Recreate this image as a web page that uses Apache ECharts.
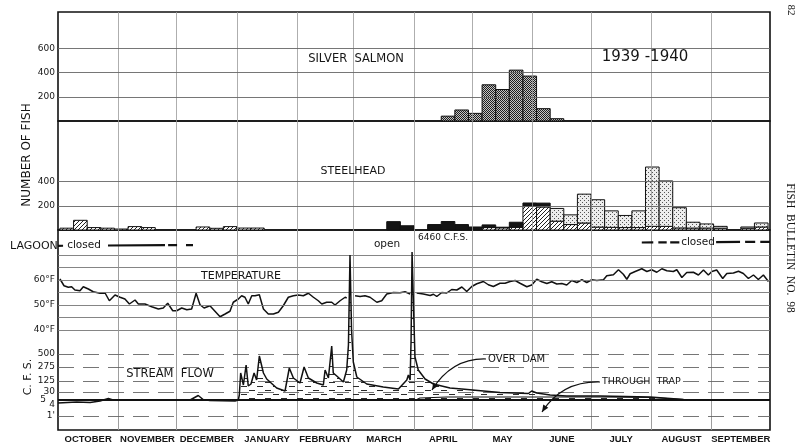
<!DOCTYPE html>
<html><head><meta charset="utf-8">
<script src="https://cdn.jsdelivr.net/npm/echarts@6/dist/echarts.min.js"></script>
<style>html,body{margin:0;padding:0;background:#fff}#c{width:803px;height:445px}</style>
</head><body><div id="c"></div>
<script>
// ---------------- DATA ----------------
const monthNames = ['OCTOBER','NOVEMBER','DECEMBER','JANUARY','FEBRUARY','MARCH','APRIL','MAY','JUNE','JULY','AUGUST','SEPTEMBER'];
const monthStartDay = [0,31,61,92,123,152,183,213,244,274,305,336,366]; // days from 1 Oct 1939

const salmonTicks = [200,400,600];
const steelheadTicks = [200,400];
const temperatureTicks = [40,50,60];
const temperatureGrid = [40,45,50,55,60,65,70];
// stream-flow scale: plotted gauge level -> printed C.F.S. label
const streamTickLevels = [46,33,19,8,0,-5,-16];
const streamTickLabels = ['500','275','125','30','5','4',"1'"];
const streamGridLevels = [46,33,19,8,-16];

// Silver salmon, weekly counts
const salmonWeekStart = [197,204,211,218,225,232,239,246,253];
const salmonCount     = [40,91,63,299,260,420,371,102,19];

// Steelhead, weekly counts (52 weeks)
const steelheadWeekStart = [1,8,15,22,29,36,43,50,57,64,71,78,85,92,99,106,113,120,127,134,141,148,155,162,169,176,183,190,197,204,211,218,225,232,239,246,253,260,267,274,281,288,295,302,309,316,323,330,337,344,351,358];
const steelheadHatched  = [15,80,20,15,8,28,20,0,0,0,25,14,28,16,16,0,0,0,0,0,0,0,0,0,0,0,0,0,0,0,0,20,18,22,198,190,73,45,58,24,22,20,20,30,30,17,16,16,15,0,15,25];
const steelheadBlack    = [0,0,0,0,0,0,0,0,0,0,0,0,0,0,0,0,0,0,0,0,0,0,0,0,69,35,0,45,70,45,25,22,5,42,25,32,0,0,0,0,0,0,0,0,0,0,0,0,0,0,0,0];
const steelheadStippled = [0,0,0,0,0,0,0,0,0,0,0,0,0,0,0,0,0,0,0,0,0,0,0,0,0,0,0,0,0,0,0,0,0,0,0,0,105,80,238,226,136,100,138,490,375,167,48,34,15,0,10,33];

// Lagoon closed periods [startDay, endDay]
const lagoonClosedSegments = [[0,2.6],[25.7,55],[56.6,61.2],[65.8,69.4],[300.1,306],[308.6,312.9],[314.7,319.4],[338.3,350.6],[353.2,358.4],[361,366]];

// Temperature (deg F) [day, value]; null = break
const temperature = [
[1.0,60.4],[3.1,57.7],[5.3,57.1],[7.0,57.3],[8.7,56.0],[11.3,55.7],[13.0,57.3],[15.6,56.4],[18.1,55.3],[21.6,54.7],[24.2,54.8],[26.4,51.7],[29.3,54.0],[31.9,53.1],[34.4,52.4],[36.7,50.4],[39.6,52.0],[41.3,50.4],[44.7,50.4],[48.2,49.3],[51.6,48.4],[54.1,48.8],[56.4,50.7],[59.0,47.7],[61.0,47.7],[63.6,48.8],[66.2,48.1],[68.7,48.4],[71.0,54.7],[73.0,50.1],[75.1,48.8],[78.1,49.7],[80.7,47.5],[83.3,45.3],[85.9,46.4],[88.4,47.5],[90.1,51.1],[92.7,52.4],[94.4,53.7],[96.1,53.1],[97.8,50.4],[99.6,53.7],[101.3,53.7],[103.5,54.1],[105.6,48.4],[108.1,46.4],[110.7,46.4],[113.3,47.1],[115.8,49.7],[118.4,53.1],[121.0,53.7],[123.5,54.0],[126.1,53.7],[128.7,54.7],[131.3,53.1],[133.8,51.7],[135.6,50.4],[138.1,51.1],[140.7,51.1],[142.4,50.0],[145.0,51.7],[147.6,53.1],[148.4,52.8],
null,
[152.7,53.7],[155.3,53.4],[157.8,53.7],[160.4,53.1],[163.9,51.1],[166.4,51.7],[169.0,54.4],[172.4,55.0],[175.8,54.9],[178.4,55.3],[181.0,54.4],
null,
[184.4,54.8],[187.8,54.4],[191.3,53.8],[193.0,54.3],[194.7,53.4],[197.3,55.0],[199.8,54.8],[202.4,56.2],[205.0,56.0],[207.6,57.2],[210.1,55.4],[212.7,57.4],[215.3,58.5],[218.7,59.4],[221.2,58.1],[223.8,57.4],[227.2,58.7],[229.8,58.7],[232.4,59.4],[235.0,59.8],[237.5,58.7],[241.0,57.3],[243.5,58.0],[246.1,60.3],[248.7,59.3],[251.3,58.6],[253.8,59.3],[256.4,58.4],[259.0,58.6],[261.5,58.0],[264.1,59.8],[266.7,59.0],[269.3,60.1],[271.8,59.0],[274.4,60.1],[277.0,59.8],[280.4,60.1],[282.1,61.7],[285.5,62.1],[288.1,64.1],[290.6,62.3],[292.4,60.3],[294.1,62.5],[296.7,63.4],[300.1,64.5],[302.7,63.4],[305.2,64.1],[307.8,63.1],[310.4,64.5],[313.0,63.7],[316.3,63.4],[318.1,64.1],[320.7,61.0],[323.2,63.0],[326.6,63.1],[329.2,62.0],[331.8,64.0],[334.3,62.0],[336.1,63.4],[338.6,64.0],[341.7,60.6],[343.8,62.6],[347.2,62.8],[349.8,63.5],[352.3,62.6],[354.9,60.6],[357.5,62.0],[360.0,60.2],[362.6,62.0],[365.2,59.4]
];

// Stream flow, plotted gauge level above the 5 C.F.S. line [day, level]
const streamFlowTotal = [
[0,-3],[1.0,-3],[9.6,-2],[16.5,-2.5],[21.6,-1],[25.9,1.5],[28.3,0],[37,0],[67.9,0],[72.1,4.5],[74.6,0.5],[78.1,-0.5],[91,-1],[92.7,0],[93.2,5],[93.9,27],[95.3,15],[96.7,35],[97.8,14],[99.2,16],[100.8,27],[102.1,20],[103.5,44],[105.6,27],[107.3,21],[112.4,12],[116.7,9],[118.9,32],[121.0,22],[124.4,17],[126.5,33],[128.7,22],[133.0,17],[136.4,15],[137.3,30],[139.0,22],[140.7,54],[141.5,27],[143.3,24],[146.7,18],[148.4,30],[149.3,55],[150.1,145],[150.9,70],[151.8,38],[153.6,23],[158.7,16],[167.2,13],[175.0,11],[179.3,20],[180.1,25],[181.0,20],[181.5,60],[182.0,148],[182.8,90],[183.5,43],[185.2,30],[188.7,21],[193.0,16],[201.5,12],[207.6,11],[218.7,9],[227.2,7.5],[241.8,6.5],[243.5,9],[246.1,7],[253.0,5],[261.5,4],[278.7,4],[304.4,3],[321.5,0.5],[338.6,0.3],[355.8,0],[366,0]
];
const streamFlowThroughTrap = [[184,0],[186,2],[200,3],[240,3],[280,3],[305,2.5],[322,0.5],[340,0]];

// ---------------- CHART ----------------
const chart = echarts.init(document.getElementById('c'));
const FONT = 'DejaVu Sans';
function mkPattern(w,h,fn){const c=document.createElement('canvas');c.width=w;c.height=h;fn(c.getContext('2d'));return {image:c,repeat:'repeat'};}
const patChecker = mkPattern(2,2,g=>{g.fillStyle='#c4c4c4';g.fillRect(0,0,2,2);g.fillStyle='#1e1e1e';g.fillRect(0,0,1,1);g.fillRect(1,1,1,1);});
const patHatch = mkPattern(4,4,g=>{g.fillStyle='#fff';g.fillRect(0,0,4,4);g.fillStyle='#222';for(let i=0;i<4;i++)g.fillRect(3-i,i,1,1);});
const patStipple = mkPattern(4,4,g=>{g.fillStyle='#ededed';g.fillRect(0,0,4,4);g.fillStyle='#555';g.fillRect(0,0,1,1);g.fillRect(2,2,1,1);});
const patDash = mkPattern(16,8,g=>{g.fillStyle='#2a2a2a';g.fillRect(1,2,6,1);g.fillRect(9,6,6,1);});

function barRows(starts, vals, bases){
  return starts.map((s,i)=>[s, s+7, vals[i], bases ? bases[i] : 0]);
}
function barSeries(xi, yi, rows, fill){
  return {type:'custom', xAxisIndex:xi, yAxisIndex:yi, data:rows, z:3, silent:true,
    renderItem:(p,api)=>{const v=api.value(2); if(!v) return null; const b=api.value(3);
      const a=api.coord([api.value(0), b+v]); const c=api.coord([api.value(1), b]);
      return {type:'rect', shape:{x:a[0], y:a[1], width:c[0]-a[0], height:c[1]-a[1]}, style:{fill:fill, stroke:'#111', lineWidth:1}};}};
}
function gridLines(xi, yi, ys, yStyle, extra){
  const data=[];
  monthStartDay.slice(1,-1).forEach(v=>data.push({xAxis:v, lineStyle:{color:'#999', width:0.8, type:'solid'}}));
  ys.forEach(v=>data.push({yAxis:v, lineStyle:yStyle}));
  (extra||[]).forEach(d=>data.push(d));
  return {type:'line', xAxisIndex:xi, yAxisIndex:yi, data:[], silent:true, z:1,
    markLine:{silent:true, symbol:['none','none'], label:{show:false}, data:data, animation:false}};
}
function splitNull(arr){const out=[[]]; arr.forEach(p=>{ if(p===null) out.push([]); else out[out.length-1].push(p);}); return out;}

const hatchBase = steelheadHatched;
const blackBase = steelheadHatched.map((v,i)=>v+steelheadBlack[i]);
const monthMid = monthStartDay.slice(0,-1).map((v,i)=>(v+monthStartDay[i+1])/2);

const xBase = {type:'value', min:0, max:366, axisLine:{show:false}, axisTick:{show:false}, splitLine:{show:false}, axisLabel:{show:false}};
const gridStyle = {show:true, borderColor:'#111', borderWidth:1.6, left:58, right:33};

const tempSeries = splitNull(temperature).map(seg=>({type:'line', xAxisIndex:2, yAxisIndex:2, data:seg, symbol:'none', z:4, silent:true,
  lineStyle:{color:'#111', width:1.5}}));

function arrow(x1,y1,cx,cy,x2,y2){
  const dx=x2-cx, dy=y2-cy, L=Math.hypot(dx,dy), ux=dx/L, uy=dy/L, hl=7, hw=3;
  return [
    {type:'bezierCurve', shape:{x1,y1,x2,y2,cpx1:cx,cpy1:cy}, style:{stroke:'#111', lineWidth:1.2, fill:null}, z:10},
    {type:'polygon', shape:{points:[[x2,y2],[x2-ux*hl-uy*hw, y2-uy*hl+ux*hw],[x2-ux*hl+uy*hw, y2-uy*hl-ux*hw]]}, style:{fill:'#111'}, z:10}
  ];
}
function txt(text,x,y,font,align,extra){return Object.assign({type:'text', x, y, z:20, style:{text, font, fill:'#151515', align:align||'center', verticalAlign:'middle'}}, extra||{});}

const option = {
  animation:false,
  backgroundColor:'#fff',
  textStyle:{fontFamily:FONT},
  grid:[
    Object.assign({top:12, height:109}, gridStyle),
    Object.assign({top:121, height:109}, gridStyle),
    Object.assign({top:230, height:200}, gridStyle)
  ],
  xAxis:[
    Object.assign({gridIndex:0}, xBase),
    Object.assign({gridIndex:1}, xBase),
    Object.assign({}, xBase, {gridIndex:2, axisLabel:{show:true, customValues:monthMid, margin:4,
      formatter:v=>monthNames[monthMid.indexOf(v)], color:'#151515', fontFamily:'Liberation Sans', fontWeight:'bold', fontSize:9.5}})
  ],
  yAxis:[
    {type:'value', gridIndex:0, position:'left', min:0, max:900, axisLine:{show:false}, axisTick:{show:false}, splitLine:{show:false},
      axisLabel:{customValues:salmonTicks, margin:3, color:'#151515', fontSize:9}},
    {type:'value', gridIndex:1, position:'left', min:0, max:900, axisLine:{show:false}, axisTick:{show:false}, splitLine:{show:false},
      axisLabel:{customValues:steelheadTicks, margin:3, color:'#151515', fontSize:9}},
    {type:'value', gridIndex:2, position:'left', min:0, max:80, axisLine:{show:false}, axisTick:{show:false}, splitLine:{show:false},
      axisLabel:{customValues:temperatureTicks, margin:3, color:'#151515', fontSize:9, formatter:v=>v+'°F'}},
    {type:'value', gridIndex:2, position:'left', offset:0, min:-30, max:170, axisLine:{show:false}, axisTick:{show:false}, splitLine:{show:false},
      axisLabel:{customValues:streamTickLevels, margin:3, color:'#151515', fontSize:9,
        formatter:v=>{const s=streamTickLabels[streamTickLevels.indexOf(v)]; return s==='5' ? '{p|5}' : s;},
        rich:{p:{padding:[0,9,0,0], fontSize:9, color:'#151515'}}}}
  ],
  series:[
    gridLines(0,0,salmonTicks,{color:'#666', width:0.9, type:'solid'}),
    gridLines(1,1,steelheadTicks,{color:'#666', width:0.9, type:'solid'}),
    gridLines(2,2,temperatureGrid,{color:'#777', width:0.9, type:'solid'}),
    gridLines(2,3,streamGridLevels,{color:'#666', width:0.9, type:[16,9]}, [{yAxis:0, lineStyle:{color:'#111', width:2, type:'solid'}}]),
    barSeries(0,0,barRows(salmonWeekStart, salmonCount), patChecker),
    barSeries(1,1,barRows(steelheadWeekStart, steelheadHatched), patHatch),
    barSeries(1,1,barRows(steelheadWeekStart, steelheadBlack, hatchBase), '#141414'),
    barSeries(1,1,barRows(steelheadWeekStart, steelheadStippled, blackBase), patStipple),
    {type:'line', xAxisIndex:2, yAxisIndex:3, data:streamFlowTotal, symbol:'none', z:5, silent:true,
      lineStyle:{color:'#111', width:1.5}, areaStyle:{color:patDash, opacity:1}},
    {type:'line', xAxisIndex:2, yAxisIndex:3, data:streamFlowThroughTrap, symbol:'none', z:5, silent:true,
      lineStyle:{color:'#111', width:1.1}},
    {type:'custom', xAxisIndex:2, yAxisIndex:2, data:lagoonClosedSegments, z:6, silent:true,
      renderItem:(p,api)=>{const a=api.coord([api.value(0),0]); const b=api.coord([api.value(1),0]);
        const yAt=x=>245.8-(x-58)/712*4;
        return {type:'line', shape:{x1:a[0], y1:yAt(a[0]), x2:b[0], y2:yAt(b[0])}, style:{stroke:'#111', lineWidth:2.2}};}}
  ].concat(tempSeries),
  graphic:[
    txt('NUMBER OF FISH',27,155,'12px '+FONT,'center',{rotation:Math.PI/2}),
    txt('C. F. S.',28,377,'11px '+FONT,'center',{rotation:Math.PI/2}),
    txt('SILVER  SALMON',356,59,'11.5px '+FONT),
    txt('1939 -1940',645,57,'15px '+FONT),
    txt('STEELHEAD',353,171,'11px '+FONT),
    txt('LAGOON',10,246,'11px '+FONT,'left'),
    txt('closed',84,245.5,'10.5px '+FONT),
    txt('closed',698,242.5,'10.5px '+FONT),
    txt('open',387,244,'10.5px '+FONT),
    txt('6460 C.F.S.',418,238,'9px '+FONT,'left'),
    txt('TEMPERATURE',241,276,'11px '+FONT),
    txt('STREAM  FLOW',170,374,'11.5px '+FONT),
    txt('OVER  DAM',488,359,'10px '+FONT,'left'),
    txt('THROUGH  TRAP',602,382,'9.5px '+FONT,'left'),
    txt('82',791,10,'11px Liberation Serif','center',{rotation:-Math.PI/2}),
    txt('FISH  BULLETIN  NO.  98',790,248,'11.5px Liberation Serif','center',{rotation:-Math.PI/2})
  ].concat(arrow(486,359,452,358,432,390)).concat(arrow(600,382,562,381,542,412))
};
chart.setOption(option);
</script>
</body></html>
